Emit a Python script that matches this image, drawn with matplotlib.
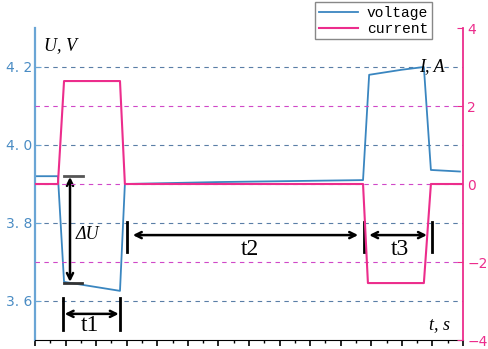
import matplotlib.pyplot as plt
from matplotlib.ticker import MultipleLocator

# data
t_v = [0, 0.75, 0.95, 2.78, 2.94, 6.0, 10.73, 10.93, 12.0, 12.72, 12.95, 13.9]
voltage = [3.92, 3.92, 3.649, 3.626, 3.90, 3.905, 3.91, 4.18, 4.193, 4.2, 3.936, 3.932]
t_i = [0, 0.75, 0.95, 2.78, 2.94, 10.73, 10.89, 12.72, 12.95, 14]
current = [0, 0, 2.64, 2.64, 0, 0, -2.54, -2.54, 0, 0]

v_ticks = [3.6, 3.8, 4.0, 4.2]
i_ticks = [-4, -2, 0, 2, 4]
i_grid = [-2, 0, 2]

blue = '#3a86c0'
pink = '#ec2d8c'
serif = 'Liberation Serif'

fig = plt.figure(figsize=(4.88, 3.49), dpi=100)
ax = fig.add_axes([35/488, 9/349, 428/488, 312/349])
ax2 = ax.twinx()

ax.set_xlim(0, 14)
ax.set_ylim(3.5, 4.3)
ax2.set_ylim(-4, 4)

# dashed grid lines
for v in v_ticks:
    ax.axhline(v, color='#5a7ea6', ls=(0, (4, 4)), lw=0.8, zorder=0)
for c in i_grid:
    ax2.axhline(c, color='#d048c8', ls=(0, (4, 4)), lw=0.8, zorder=0)

l1, = ax.plot(t_v, voltage, color=blue, lw=1.3, label='voltage')
l2, = ax2.plot(t_i, current, color=pink, lw=1.5, label='current')

# spines and ticks
ax.spines['top'].set_visible(False)
ax2.spines['top'].set_visible(False)
ax.spines['right'].set_visible(False)
ax2.spines['left'].set_visible(False)
ax2.spines['bottom'].set_visible(False)
ax.spines['left'].set_color('#6aa5d5')
ax.spines['left'].set_linewidth(1.6)
ax2.spines['right'].set_color(pink)
ax2.spines['right'].set_linewidth(1.3)

ax.xaxis.set_major_locator(MultipleLocator(1))
ax.xaxis.set_minor_locator(MultipleLocator(0.5))
ax.tick_params(axis='x', which='major', direction='out', length=4, width=1.2, labelbottom=False)
ax.tick_params(axis='x', which='minor', direction='out', length=2, width=1)

ax.set_yticks(v_ticks)
ax.set_yticklabels(['3. 6', '3. 8', '4. 0', '4. 2'])
ax.tick_params(axis='y', direction='in', length=4, color='#6aa5d5', labelcolor='#4a8cc4', labelsize=10, pad=2)
ax2.set_yticks(i_ticks)
ax2.set_yticklabels(['\u22124', '\u22122', '0', '2', '4'])
ax2.tick_params(axis='y', direction='in', length=4, color=pink, labelcolor=pink, labelsize=10, pad=3)

# axis names
ax.text(0.3, 4.255, 'U, V', fontfamily=serif, style='italic', fontsize=13, va='center')
ax2.text(12.55, 3.0, 'I, A', fontfamily=serif, style='italic', fontsize=13, va='center')
ax.text(12.9, 3.54, 't, s', fontfamily=serif, style='italic', fontsize=13, va='center')

# delta U
ax.plot([0.95, 1.57], [3.92, 3.92], color='#555555', lw=2)
ax.plot([0.95, 1.54], [3.647, 3.647], color='#333333', lw=2)
arrow = dict(arrowstyle='<->', color='black', lw=1.8, shrinkA=0, shrinkB=0, mutation_scale=11)
ax.annotate('', xy=(1.145, 3.649), xytext=(1.145, 3.918), arrowprops=arrow)
ax.text(1.73, 3.77, '\u0394U', fontfamily=serif, style='italic', fontsize=13, ha='center', va='center')

# t1
for x in [0.916, 2.78]:
    ax.plot([x, x], [3.526, 3.608], color='black', lw=2)
ax.annotate('', xy=(0.97, 3.567), xytext=(2.74, 3.567), arrowprops=arrow)
ax.text(1.8, 3.536, 't1', fontfamily=serif, fontsize=17, ha='center', va='center')

# t2 and t3
for x in [3.01, 10.76, 12.99]:
    ax.plot([x, x], [3.726, 3.803], color='black', lw=2)
ax.annotate('', xy=(3.2, 3.769), xytext=(10.57, 3.769), arrowprops=arrow)
ax.text(7.03, 3.731, 't2', fontfamily=serif, fontsize=17, ha='center', va='center')
ax.annotate('', xy=(10.93, 3.769), xytext=(12.82, 3.769), arrowprops=arrow)
ax.text(11.94, 3.731, 't3', fontfamily=serif, fontsize=17, ha='center', va='center')

leg = fig.legend([l1, l2], ['voltage', 'current'], loc='upper left',
                 bbox_to_anchor=(315/488, 1 - 2/349), borderaxespad=0,
                 prop={'family': 'Liberation Mono', 'size': 10.5},
                 fancybox=False, framealpha=1, edgecolor='#888888',
                 handlelength=2.7, labelspacing=0.15, borderpad=0.25, handletextpad=0.6)

fig.savefig('out.png', dpi=100)
